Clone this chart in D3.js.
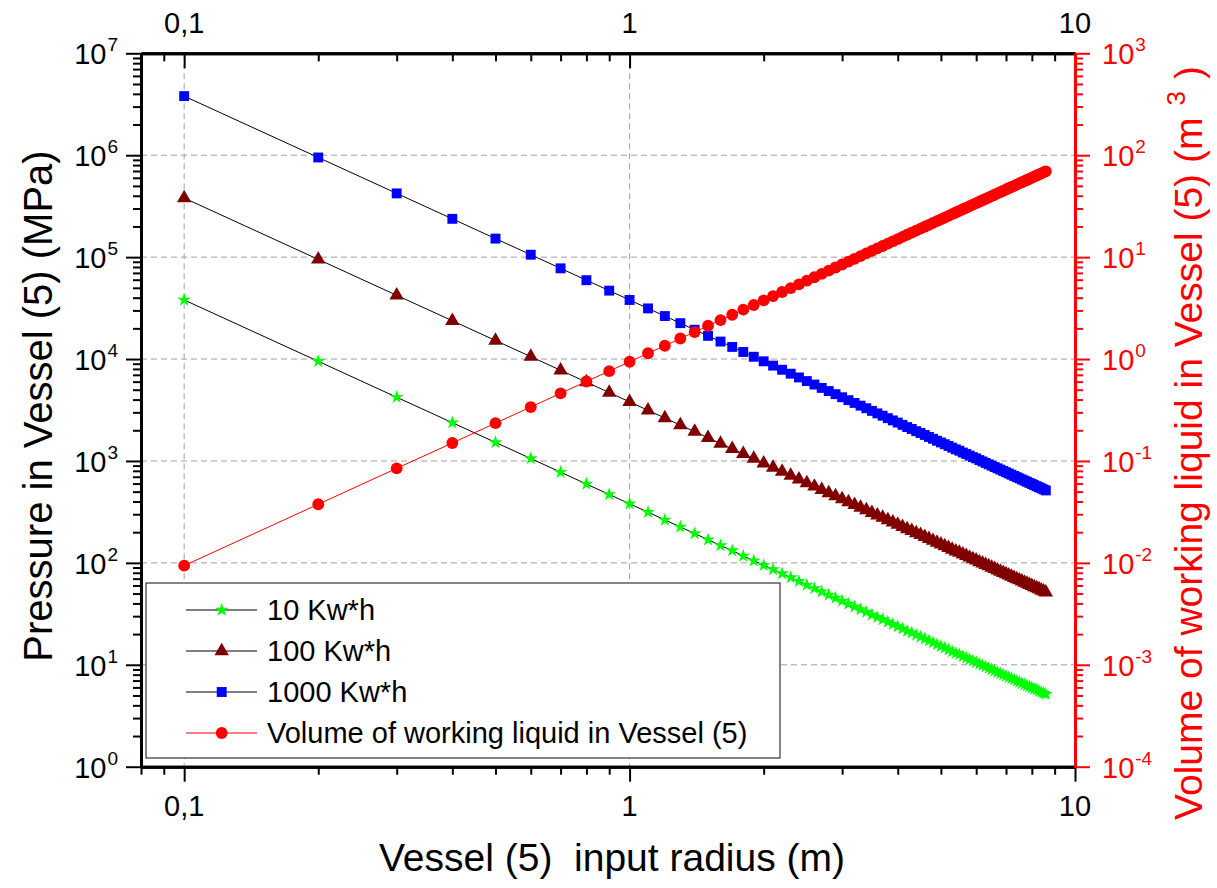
<!DOCTYPE html>
<html>
<head>
<meta charset="utf-8">
<script src="https://cdn.jsdelivr.net/npm/d3@7"></script>
<style>
  body { margin: 0; background: #fff; }
  svg { display: block; font-family: "Liberation Sans", Arial, sans-serif; }
</style>
</head>
<body>
<svg id="svg-graph" width="1217" height="888"></svg>
<script>
//Vessel input radius (m)
const radius = [
  0.1, 0.2, 0.3, 0.4, 0.5, 0.6, 0.7, 0.8, 0.9, 1.0,
  1.1, 1.2, 1.3, 1.4, 1.5, 1.6, 1.7, 1.8, 1.9, 2.0,
  2.1, 2.2, 2.3, 2.4, 2.5, 2.6, 2.7, 2.8, 2.9, 3.0,
  3.1, 3.2, 3.3, 3.4, 3.5, 3.6, 3.7, 3.8, 3.9, 4.0,
  4.1, 4.2, 4.3, 4.4, 4.5, 4.6, 4.7, 4.8, 4.9, 5.0,
  5.1, 5.2, 5.3, 5.4, 5.5, 5.6, 5.7, 5.8, 5.9, 6.0,
  6.1, 6.2, 6.3, 6.4, 6.5, 6.6, 6.7, 6.8, 6.9, 7.0,
  7.1, 7.2, 7.3, 7.4, 7.5, 7.6, 7.7, 7.8, 7.9, 8.0,
  8.1, 8.2, 8.3, 8.4, 8.5, 8.6,
];

//Pressure (MPa) for 10 Kw*h
const pressure10 = [
  38000, 9500, 4220, 2375, 1520, 1056, 776, 594, 469, 380,
  314, 264, 225, 194, 169, 148, 132, 117, 105, 95,
  86.2, 78.5, 71.8, 66, 60.8, 56.2, 52.1, 48.5, 45.2, 42.2,
  39.5, 37.1, 34.9, 32.9, 31, 29.3, 27.8, 26.3, 25, 23.8,
  22.6, 21.5, 20.6, 19.6, 18.8, 18, 17.2, 16.5, 15.8, 15.2,
  14.6, 14.05, 13.5, 13, 12.6, 12.1, 11.7, 11.3, 10.9, 10.6,
  10.2, 9.89, 9.57, 9.28, 8.99, 8.72, 8.47, 8.22, 7.98, 7.76,
  7.54, 7.33, 7.13, 6.94, 6.76, 6.58, 6.41, 6.25, 6.09, 5.94,
  5.79, 5.65, 5.52, 5.39, 5.26, 5.14,
];

//Pressure (MPa) for 100 Kw*h
const pressure100 = [
  380000, 95000, 42200, 23750, 15200, 10560, 7760, 5940, 4690, 3800,
  3140, 2640, 2250, 1939, 1689, 1484, 1315, 1173, 1053, 950,
  862, 785, 718, 660, 608, 562, 521, 485, 452, 422,
  395, 371, 349, 329, 310, 293, 278, 263, 250, 238,
  226, 215, 206, 196, 188, 180, 172, 165, 158, 152,
  146, 140.5, 135, 130, 126, 121, 117, 113, 109, 106,
  102, 98.9, 95.7, 92.8, 89.9, 87.2, 84.7, 82.2, 79.8, 77.6,
  75.4, 73.3, 71.3, 69.4, 67.6, 65.8, 64.1, 62.5, 60.9, 59.4,
  57.9, 56.5, 55.2, 53.9, 52.6, 51.4,
];

//Pressure (MPa) for 1000 Kw*h
const pressure1000 = [
  3800000, 950000, 422000, 237500, 152000, 105600, 77600, 59400, 46900, 38000,
  31400, 26400, 22500, 19390, 16890, 14840, 13150, 11730, 10530, 9500,
  8620, 7850, 7180, 6600, 6080, 5620, 5210, 4850, 4520, 4220,
  3950, 3710, 3490, 3290, 3100, 2930, 2780, 2630, 2500, 2380,
  2260, 2150, 2060, 1960, 1880, 1800, 1720, 1650, 1580, 1520,
  1460, 1405, 1350, 1300, 1260, 1210, 1170, 1130, 1090, 1060,
  1020, 989, 957, 928, 899, 872, 847, 822, 798, 776,
  754, 733, 713, 694, 676, 658, 641, 625, 609, 594,
  579, 565, 552, 539, 526, 514,
];

//Volume of working liquid (m3)
const volume = [
  0.0094, 0.0376, 0.0846, 0.150, 0.235, 0.338, 0.461, 0.602, 0.761, 0.94,
  1.14, 1.35, 1.59, 1.84, 2.12, 2.41, 2.72, 3.05, 3.39, 3.76,
  4.15, 4.55, 4.97, 5.41, 5.88, 6.35, 6.85, 7.37, 7.91, 8.46,
  9.03, 9.63, 10.24, 10.87, 11.52, 12.18, 12.87, 13.57, 14.30, 15.04,
  15.80, 16.58, 17.38, 18.20, 19.04, 19.89, 20.76, 21.66, 22.57, 23.5,
  24.45, 25.42, 26.40, 27.41, 28.44, 29.48, 30.54, 31.62, 32.72, 33.84,
  34.98, 36.13, 37.31, 38.50, 39.72, 40.95, 42.20, 43.47, 44.75, 46.06,
  47.39, 48.73, 50.09, 51.47, 52.88, 54.29, 55.73, 57.19, 58.67, 60.16,
  61.67, 63.21, 64.76, 66.33, 67.92, 69.52,
];

//Tick labels
const xTickValues = [0.1, 1, 10];
const xTickLabels = ["0,1", "1", "10"];
const leftExponents = [0, 1, 2, 3, 4, 5, 6, 7];
const rightExponents = [-4, -3, -2, -1, 0, 1, 2, 3];

//Legend labels
const legendLabels = [
  "10 Kw*h",
  "100 Kw*h",
  "1000 Kw*h",
  "Volume of working liquid in Vessel (5)",
];

document.addEventListener("DOMContentLoaded", () => {
  const svg = d3.select("#svg-graph");

  //Plot box
  const left = 141;
  const right = 1075;
  const top = 53.3;
  const bottom = 766.7;

  //Scales
  const xScale = d3.scaleLog().domain([0.08, 10]).range([left, right]);
  const yLeft = d3.scaleLog().domain([1, 1e7]).range([bottom, top]);
  const yRight = d3.scaleLog().domain([1e-4, 1e3]).range([bottom, top]);

  //Grid lines (dashed)
  const grid = svg.append("g").attr("id", "grid");
  grid
    .selectAll("line.hgrid")
    .data(leftExponents.filter((e) => e > 0 && e < 7))
    .enter()
    .append("line")
    .attr("x1", left)
    .attr("x2", right)
    .attr("y1", (e) => yLeft(Math.pow(10, e)))
    .attr("y2", (e) => yLeft(Math.pow(10, e)))
    .attr("stroke", "#a0a0a0")
    .attr("stroke-width", 1)
    .attr("stroke-dasharray", "6,4");
  grid
    .selectAll("line.vgrid")
    .data(xTickValues.filter((v) => v < 10))
    .enter()
    .append("line")
    .attr("x1", (v) => xScale(v))
    .attr("x2", (v) => xScale(v))
    .attr("y1", top)
    .attr("y2", bottom)
    .attr("stroke", "#a0a0a0")
    .attr("stroke-width", 1)
    .attr("stroke-dasharray", "6,4");

  //Series
  const series = [
    { values: pressure10, y: yLeft, line: "#000", color: "#00ff00", shape: "star" },
    { values: pressure100, y: yLeft, line: "#000", color: "#800000", shape: "triangle" },
    { values: pressure1000, y: yLeft, line: "#000", color: "#0000ff", shape: "square" },
    { values: volume, y: yRight, line: "#ff0000", color: "#ff0000", shape: "circle" },
  ];
  const symbolFor = {
    star: d3.symbol().type(d3.symbolStar).size(58),
    triangle: d3.symbol().type(d3.symbolTriangle).size(90),
    square: d3.symbol().type(d3.symbolSquare).size(98),
    circle: d3.symbol().type(d3.symbolCircle).size(110),
  };

  series.forEach((s) => {
    const pts = radius.map((r, i) => [r, s.values[i]]);
    const line = d3
      .line()
      .x((d) => xScale(d[0]))
      .y((d) => s.y(d[1]));
    svg
      .append("path")
      .datum(pts)
      .attr("d", line)
      .attr("fill", "none")
      .attr("stroke", s.line)
      .attr("stroke-width", 1);
  });

  series.forEach((s) => {
    const pts = radius.map((r, i) => [r, s.values[i]]);
    svg
      .append("g")
      .selectAll("path")
      .data(pts)
      .enter()
      .append("path")
      .attr("d", symbolFor[s.shape])
      .attr("transform", (d) => `translate(${xScale(d[0])}, ${s.y(d[1])})`)
      .attr("fill", s.color);
  });

  //Axes helper
  const styleAxis = (g, color) => {
    g.select(".domain").attr("stroke", color).attr("stroke-width", 3);
    g.selectAll(".tick line").attr("stroke", color).attr("stroke-width", 2);
    g.selectAll(".tick text").remove();
  };
  const xMinor = xScale.ticks().filter((v) => !xTickValues.some((t) => Math.abs(t - v) < 1e-9));
  const leftMinor = yLeft.ticks().filter((v) => Math.abs(Math.log10(v) - Math.round(Math.log10(v))) > 1e-9);
  const rightMinor = yRight.ticks().filter((v) => Math.abs(Math.log10(v) - Math.round(Math.log10(v))) > 1e-9);

  //Bottom axis
  const bottomMinor = svg.append("g").attr("transform", `translate(0, ${bottom})`)
    .call(d3.axisBottom(xScale).tickValues(xMinor).tickSizeInner(8).tickSizeOuter(0));
  styleAxis(bottomMinor, "#000");
  const bottomMajor = svg.append("g").attr("transform", `translate(0, ${bottom})`)
    .call(d3.axisBottom(xScale).tickValues(xTickValues).tickSizeInner(15).tickSizeOuter(0));
  styleAxis(bottomMajor, "#000");

  //Top axis (ticks pointing inside)
  const topMinor = svg.append("g").attr("transform", `translate(0, ${top})`)
    .call(d3.axisTop(xScale).tickValues(xMinor).tickSizeInner(-8).tickSizeOuter(0));
  styleAxis(topMinor, "#000");
  const topMajor = svg.append("g").attr("transform", `translate(0, ${top})`)
    .call(d3.axisTop(xScale).tickValues(xTickValues).tickSizeInner(-15).tickSizeOuter(0));
  styleAxis(topMajor, "#000");

  //Left axis
  const leftMinorG = svg.append("g").attr("transform", `translate(${left}, 0)`)
    .call(d3.axisLeft(yLeft).tickValues(leftMinor).tickSizeInner(8).tickSizeOuter(0));
  styleAxis(leftMinorG, "#000");
  const leftMajorG = svg.append("g").attr("transform", `translate(${left}, 0)`)
    .call(d3.axisLeft(yLeft).tickValues(leftExponents.map((e) => Math.pow(10, e))).tickSizeInner(15).tickSizeOuter(0));
  styleAxis(leftMajorG, "#000");

  //Right axis (red)
  const rightMinorG = svg.append("g").attr("transform", `translate(${right}, 0)`)
    .call(d3.axisRight(yRight).tickValues(rightMinor).tickSizeInner(8).tickSizeOuter(0));
  styleAxis(rightMinorG, "#ff0000");
  const rightMajorG = svg.append("g").attr("transform", `translate(${right}, 0)`)
    .call(d3.axisRight(yRight).tickValues(rightExponents.map((e) => Math.pow(10, e))).tickSizeInner(15).tickSizeOuter(0));
  styleAxis(rightMajorG, "#ff0000");

  //X tick labels, bottom and top
  const labels = svg.append("g").style("font-size", "29px");
  xTickValues.forEach((v, i) => {
    labels.append("text").attr("x", xScale(v)).attr("y", 816)
      .attr("text-anchor", "middle").text(xTickLabels[i]);
    labels.append("text").attr("x", xScale(v)).attr("y", 33)
      .attr("text-anchor", "middle").text(xTickLabels[i]);
  });

  //Power-of-ten labels
  const addPowerLabel = (x, y, exponent, anchor, color) => {
    const text = labels.append("text")
      .attr("x", x).attr("y", y + 11)
      .attr("text-anchor", anchor).attr("fill", color);
    text.append("tspan").text("10");
    text.append("tspan").attr("dy", -13).attr("dx", 1).style("font-size", "19px").text(exponent);
  };
  leftExponents.forEach((e) => addPowerLabel(118, yLeft(Math.pow(10, e)), e, "end", "#000"));
  rightExponents.forEach((e) => addPowerLabel(1102, yRight(Math.pow(10, e)), e, "start", "#ff0000"));

  //Axis titles
  svg.append("text")
    .attr("x", 612).attr("y", 871)
    .attr("text-anchor", "middle").style("font-size", "39px")
    .style("white-space", "pre")
    .text("Vessel (5)  input radius (m)");
  svg.append("text")
    .attr("transform", "translate(52, 406) rotate(-90)")
    .attr("text-anchor", "middle").style("font-size", "40px")
    .text("Pressure in Vessel (5) (MPa)");
  const rightTitle = svg.append("text")
    .attr("transform", "translate(1202, 443) rotate(-90)")
    .attr("text-anchor", "middle").style("font-size", "39px")
    .style("white-space", "pre")
    .attr("fill", "#ff0000");
  rightTitle.append("tspan").text("Volume of working liquid in Vessel (5) (m");
  rightTitle.append("tspan").attr("dx", 12).attr("dy", -17).style("font-size", "26px").text("3");
  rightTitle.append("tspan").attr("dx", 12).attr("dy", 17).text(")");

  //Legend
  const legend = svg.append("g").attr("id", "legend");
  legend.append("rect")
    .attr("x", 146).attr("y", 583).attr("width", 634).attr("height", 175)
    .attr("fill", "#fff").attr("stroke", "#333").attr("stroke-width", 1.2);
  series.forEach((s, i) => {
    const cy = 610 + i * 41;
    legend.append("line")
      .attr("x1", 186).attr("x2", 257).attr("y1", cy).attr("y2", cy)
      .attr("stroke", s.line).attr("stroke-width", 1.2);
    legend.append("path")
      .attr("d", symbolFor[s.shape])
      .attr("transform", `translate(221.7, ${cy})`)
      .attr("fill", s.color);
    legend.append("text")
      .attr("x", 267).attr("y", cy + 10)
      .style("font-size", "29px")
      .text(legendLabels[i]);
  });
});
</script>
</body>
</html>
